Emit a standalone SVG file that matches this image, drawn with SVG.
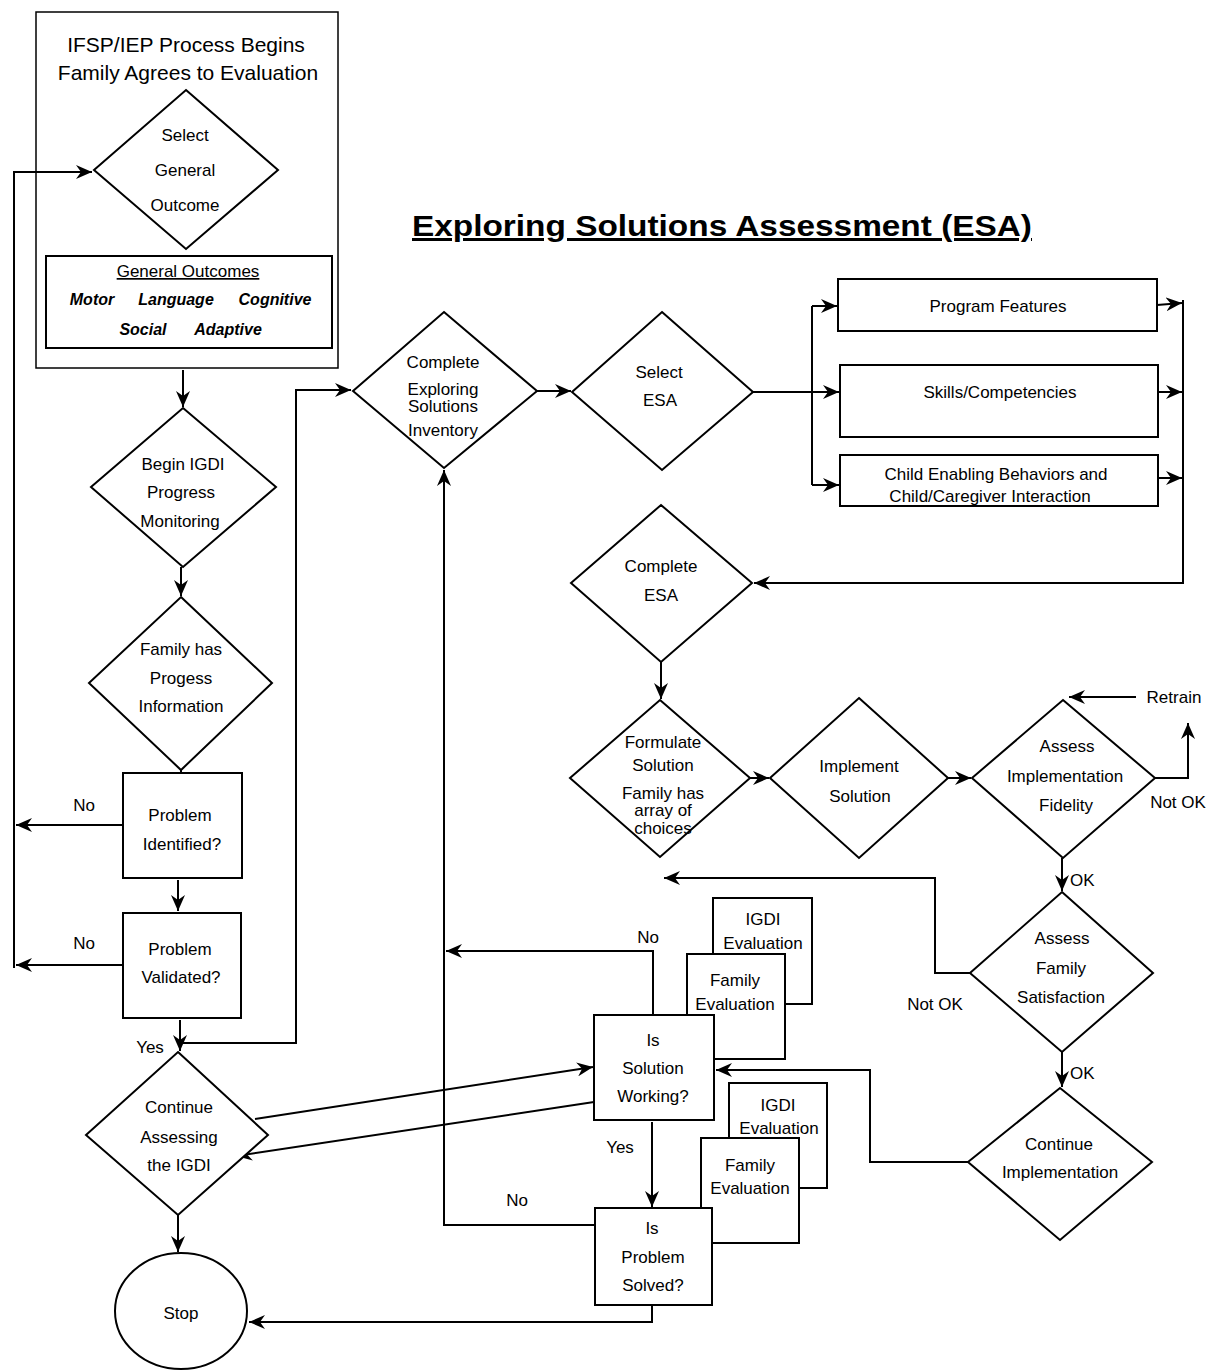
<svg xmlns="http://www.w3.org/2000/svg" width="1214" height="1370" viewBox="0 0 1214 1370">
<style>
.s{fill:#fff;stroke:#000;stroke-width:2}
.c{fill:none;stroke:#000;stroke-width:2}
text{font-family:"Liberation Sans",Arial,sans-serif;font-size:17px;fill:#000;text-anchor:middle}
.big{font-size:21px}
.it{font-style:italic;font-weight:bold;font-size:16px}
.l{text-anchor:start}
</style>
<defs>
<marker id="a" markerWidth="18" markerHeight="14" refX="16" refY="7" orient="auto" markerUnits="userSpaceOnUse">
<path d="M0,0 L16,7 L0,14 L5,7 z" fill="#000"/>
</marker>
</defs>
<rect width="1214" height="1370" fill="#fff"/>

<g id="title">
<text x="722" y="236" style="font-size:30px;font-weight:bold;text-decoration:underline" textLength="620" lengthAdjust="spacingAndGlyphs">Exploring Solutions Assessment (ESA)</text>
</g>

<g id="start-box">
<rect x="36" y="12" width="302" height="356" fill="none" stroke="#000" stroke-width="1.5"/>
<text class="big" x="186" y="52">IFSP/IEP Process Begins</text>
<text class="big" x="188" y="80">Family Agrees to Evaluation</text>
</g>

<g id="connectors">
<path class="c" d="M14,968 L14,172 L92,172" marker-end="url(#a)"/>
<path class="c" d="M183,370 L183,407" marker-end="url(#a)"/>
<path class="c" d="M181,567 L181,596" marker-end="url(#a)"/>
<path class="c" d="M181,758 L181,772" marker-end="url(#a)"/>
<path class="c" d="M122,825 L16,825" marker-end="url(#a)"/>
<path class="c" d="M122,965 L16,965" marker-end="url(#a)"/>
<path class="c" d="M178,880 L178,911" marker-end="url(#a)"/>
<path class="c" d="M180,1020 L180,1051" marker-end="url(#a)"/>
<path class="c" d="M180,1043 L296,1043 L296,390 L351,390" marker-end="url(#a)"/>
<path class="c" d="M178,1215 L178,1252" marker-end="url(#a)"/>
<path class="c" d="M652,1305 L652,1322 L249,1322" marker-end="url(#a)"/>
<path class="c" d="M537,391 L571,391" marker-end="url(#a)"/>
<path class="c" d="M753,392 L812,392"/>
<path class="c" d="M812,306 L812,485"/>
<path class="c" d="M812,306 L837,306" marker-end="url(#a)"/>
<path class="c" d="M812,392 L839,392" marker-end="url(#a)"/>
<path class="c" d="M812,485 L839,485" marker-end="url(#a)"/>
<path class="c" d="M1157,305 L1182,303" marker-end="url(#a)"/>
<path class="c" d="M1158,392 L1182,392" marker-end="url(#a)"/>
<path class="c" d="M1158,478 L1182,478" marker-end="url(#a)"/>
<path class="c" d="M1183,300 L1183,583 L754,583" marker-end="url(#a)"/>
<path class="c" d="M661,662 L661,699" marker-end="url(#a)"/>
<path class="c" d="M750,778 L769,778" marker-end="url(#a)"/>
<path class="c" d="M948,778 L971,778" marker-end="url(#a)"/>
<path class="c" d="M1155,778 L1188,778 L1188,723" marker-end="url(#a)"/>
<path class="c" d="M1136,697 L1069,697" marker-end="url(#a)"/>
<path class="c" d="M1062,858 L1062,891" marker-end="url(#a)"/>
<path class="c" d="M970,973 L935,973 L935,878 L664,878" marker-end="url(#a)"/>
<path class="c" d="M1062,1052 L1062,1087" marker-end="url(#a)"/>
<path class="c" d="M968,1162 L870,1162 L870,1070 L716,1070" marker-end="url(#a)"/>
<path class="c" d="M653,1015 L653,951 L446,951" marker-end="url(#a)"/>
<path class="c" d="M595,1225 L444,1225 L444,470" marker-end="url(#a)"/>
<path class="c" d="M255,1119 L593,1067" marker-end="url(#a)"/>
<path class="c" d="M594,1102 L236,1156" marker-end="url(#a)"/>
<path class="c" d="M652,1122 L652,1207" marker-end="url(#a)"/>
</g>

<g id="select-general-outcome">
<polygon class="s" points="186,90 278,170 186,249 94,170"/>
<text x="185" y="141">Select</text>
<text x="185" y="176">General</text>
<text x="185" y="211">Outcome</text>
</g>

<g id="general-outcomes">
<rect class="s" x="46" y="256" width="286" height="92"/>
<text x="188" y="277" style="text-decoration:underline">General Outcomes</text>
<text class="it" x="92" y="305">Motor</text>
<text class="it" x="176" y="305">Language</text>
<text class="it" x="275" y="305">Cognitive</text>
<text class="it" x="143" y="335">Social</text>
<text class="it" x="228" y="335">Adaptive</text>
</g>

<g id="begin-igdi">
<polygon class="s" points="183,408 276,487 183,567 91,487"/>
<text x="183" y="470">Begin IGDI</text>
<text x="181" y="498">Progress</text>
<text x="180" y="527">Monitoring</text>
</g>

<g id="family-progress">
<polygon class="s" points="181,597 272,683 181,770 89,683"/>
<text x="181" y="655">Family has</text>
<text x="181" y="684">Progess</text>
<text x="181" y="712">Information</text>
</g>

<g id="problem-identified">
<rect class="s" x="123" y="773" width="119" height="105"/>
<text x="180" y="821">Problem</text>
<text x="182" y="850">Identified?</text>
<text x="84" y="811">No</text>
</g>

<g id="problem-validated">
<rect class="s" x="123" y="913" width="118" height="105"/>
<text x="180" y="955">Problem</text>
<text x="181" y="983">Validated?</text>
<text x="84" y="949">No</text>
<text x="150" y="1053">Yes</text>
</g>

<g id="continue-assessing">
<polygon class="s" points="178,1052 268,1135 178,1215 86,1135"/>
<text x="179" y="1113">Continue</text>
<text x="179" y="1143">Assessing</text>
<text x="179" y="1171">the IGDI</text>
</g>

<g id="stop">
<ellipse class="s" cx="181" cy="1311" rx="66" ry="58"/>
<text x="181" y="1319">Stop</text>
</g>

<g id="complete-esi">
<polygon class="s" points="444,312 537,391 444,468 353,391"/>
<text x="443" y="368">Complete</text>
<text x="443" y="395">Exploring</text>
<text x="443" y="412">Solutions</text>
<text x="443" y="436">Inventory</text>
</g>

<g id="select-esa">
<polygon class="s" points="662,312 753,392 662,470 572,392"/>
<text x="659" y="378">Select</text>
<text x="660" y="406">ESA</text>
</g>

<g id="program-features">
<rect class="s" x="838" y="279" width="319" height="52"/>
<text x="998" y="312">Program Features</text>
</g>

<g id="skills">
<rect class="s" x="840" y="365" width="318" height="72"/>
<text x="1000" y="398">Skills/Competencies</text>
</g>

<g id="child-enabling">
<rect class="s" x="840" y="455" width="318" height="51"/>
<text x="996" y="480">Child Enabling Behaviors and</text>
<text x="990" y="502">Child/Caregiver Interaction</text>
</g>

<g id="complete-esa">
<polygon class="s" points="661,505 752,583 661,662 571,583"/>
<text x="661" y="572">Complete</text>
<text x="661" y="601">ESA</text>
</g>

<g id="formulate">
<polygon class="s" points="660,700 750,778 660,857 570,778"/>
<text x="663" y="748">Formulate</text>
<text x="663" y="771">Solution</text>
<text x="663" y="799">Family has</text>
<text x="663" y="816">array of</text>
<text x="663" y="834">choices</text>
</g>

<g id="implement">
<polygon class="s" points="859,698 948,778 859,858 770,778"/>
<text x="859" y="772">Implement</text>
<text x="860" y="802">Solution</text>
</g>

<g id="assess-fidelity">
<polygon class="s" points="1063,700 1155,778 1063,858 972,778"/>
<text x="1067" y="752">Assess</text>
<text x="1065" y="782">Implementation</text>
<text x="1066" y="811">Fidelity</text>
<text x="1174" y="703">Retrain</text>
<text x="1178" y="808">Not OK</text>
<text class="l" x="1070" y="886">OK</text>
</g>

<g id="assess-family">
<polygon class="s" points="1062,892 1153,973 1062,1052 970,973"/>
<text x="1062" y="944">Assess</text>
<text x="1061" y="974">Family</text>
<text x="1061" y="1003">Satisfaction</text>
<text x="935" y="1010">Not OK</text>
<text class="l" x="1070" y="1079">OK</text>
</g>

<g id="continue-impl">
<polygon class="s" points="1060,1088 1152,1162 1060,1240 968,1162"/>
<text x="1059" y="1150">Continue</text>
<text x="1060" y="1178">Implementation</text>
</g>

<g id="eval-upper">
<rect class="s" x="713" y="898" width="99" height="106"/>
<text x="763" y="925">IGDI</text>
<text x="763" y="949">Evaluation</text>
<rect class="s" x="687" y="954" width="98" height="105"/>
<text x="735" y="986">Family</text>
<text x="735" y="1010">Evaluation</text>
</g>

<g id="solution-working">
<rect class="s" x="594" y="1015" width="120" height="105"/>
<text x="653" y="1046">Is</text>
<text x="653" y="1074">Solution</text>
<text x="653" y="1102">Working?</text>
<text x="648" y="943">No</text>
<text x="620" y="1153">Yes</text>
</g>

<g id="eval-lower">
<rect class="s" x="729" y="1083" width="98" height="105"/>
<text x="778" y="1111">IGDI</text>
<text x="779" y="1134">Evaluation</text>
<rect class="s" x="701" y="1138" width="98" height="105"/>
<text x="750" y="1171">Family</text>
<text x="750" y="1194">Evaluation</text>
</g>

<g id="problem-solved">
<rect class="s" x="595" y="1208" width="117" height="97"/>
<text x="652" y="1234">Is</text>
<text x="653" y="1263">Problem</text>
<text x="653" y="1291">Solved?</text>
<text x="517" y="1206">No</text>
</g>
</svg>
